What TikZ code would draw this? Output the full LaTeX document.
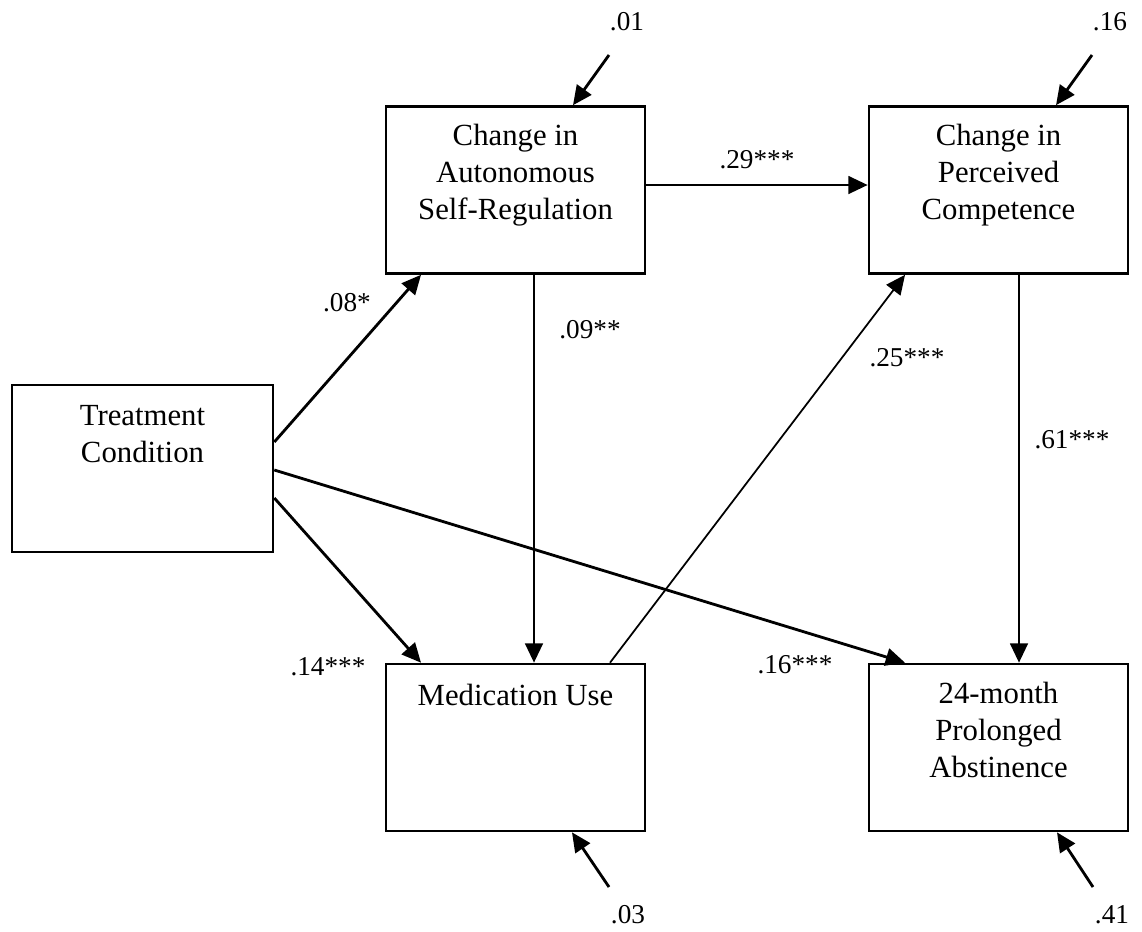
\documentclass[tikz,border=0pt]{standalone}
\usepackage{fontspec}
\setmainfont{Liberation Serif}
\usetikzlibrary{arrows.meta}
\begin{document}
\begin{tikzpicture}[x=0.02cm, y=-0.02cm,
    varbox/.style={draw, line width=1.5pt, minimum width=5.18cm, minimum height=3.34cm, inner sep=0pt},
    vartext/.style={anchor=north, align=center, inner sep=0pt, font=\fontsize{17.5}{21}\selectfont},
    coef/.style={inner sep=0pt, font=\fontsize{15.5}{18}\selectfont},
    effect/.style={-{Triangle[length=11pt, width=10pt]}, line width=1.6pt},
    thineffect/.style={effect, line width=1pt}]
%		    \draw[help lines] (0,0) grid (1142,931);
			\useasboundingbox (0,0) rectangle (1142,931);
			\node[varbox, minimum width=5.22cm] (treat) at (142.5,468.5) {};
			\node[varbox] (auton) at (515.5,190) {};
			\node[varbox] (compet) at (998.5,190) {};
			\node[varbox] (medic) at (515.5,747.5) {};
			\node[varbox] (abstin) at (998.5,747.5) {};
			\node[vartext] (treattxt) at ([yshift=-0.42cm]treat.north) {Treatment \\ Condition};
			\node[vartext] (autontxt) at ([yshift=-0.38cm]auton.north) {Change in \\ Autonomous \\ Self-Regulation};
			\node[vartext] (complettxt) at ([yshift=-0.38cm]compet.north) {Change in \\ Perceived \\ Competence};
			\node[vartext] (medictxt) at ([yshift=-0.42cm]medic.north) {Medication Use};
			\node[vartext] (abstintxt) at ([yshift=-0.38cm]abstin.north) {24-month \\ Prolonged \\ Abstinence};
			% residual variances
			\coordinate (eauton) at (609,55);
			\coordinate (ecompet) at (1092,55);
			\coordinate (emedic) at (609,887);
			\coordinate (eabstin) at (1093,887);
			\node[coef] (rauton) at (627,22) {.01};
			\node[coef] (rcompet) at (1110,22) {.16};
			\node[coef] (rmedic) at (628,915) {.03};
			\node[coef] (rabstin) at (1112,915) {.41};
			\draw[effect] (eauton) -- ([xshift=1.15cm]auton.north);
			\draw[effect] (ecompet) -- ([xshift=1.15cm]compet.north);
			\draw[effect] (emedic) -- ([xshift=1.13cm]medic.south);
			\draw[effect] (eabstin) -- ([xshift=1.17cm]abstin.south);
			% paths
			\draw[effect] ([yshift=0.53cm]treat.east) -- ([xshift=-1.89cm]auton.south);
			\draw[effect] ([yshift=-0.59cm]treat.east) -- ([xshift=-1.89cm]medic.north);
			\draw[effect] ([yshift=-0.03cm]treat.east) -- ([xshift=-1.87cm]abstin.north);
			\draw[effect] ([xshift=0.37cm]auton.south) -- ([xshift=0.37cm]medic.north);
			\draw[effect] ([yshift=0.1cm]auton.east) -- ([yshift=0.1cm]compet.west);
			\draw[thineffect] ([xshift=1.89cm]medic.north) -- ([xshift=-1.87cm]compet.south);
			\draw[effect] ([xshift=0.41cm]compet.south) -- ([xshift=0.41cm]abstin.north);
			\node[coef] (c1) at (347,303) {.08*};
			\node[coef] (c2) at (328,667) {.14***};
			\node[coef] (c3) at (795,665) {.16***};
			\node[coef] (c4) at (590,330) {.09**};
			\node[coef] (c5) at (757,160) {.29***};
			\node[coef] (c6) at (907,358) {.25***};
			\node[coef] (c7) at (1072,440) {.61***};
		\end{tikzpicture}
\end{document}
